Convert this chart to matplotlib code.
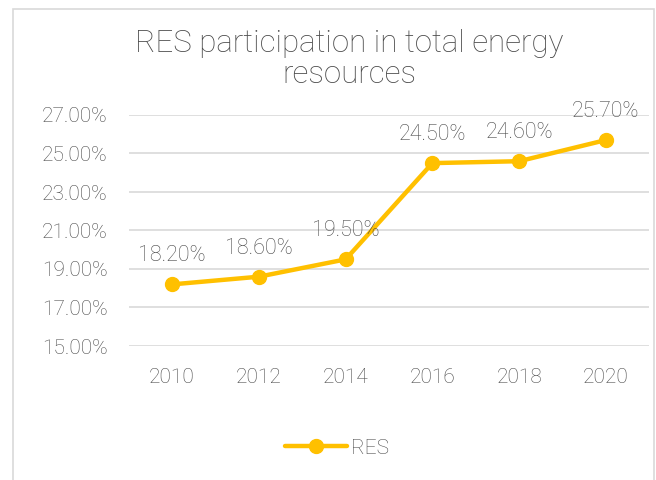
import matplotlib.pyplot as plt
from matplotlib.patches import Rectangle
from matplotlib.ticker import FuncFormatter

years = ["2010", "2012", "2014", "2016", "2018", "2020"]
res_share = [18.2, 18.6, 19.5, 24.5, 24.6, 25.7]
yticks = [15, 17, 19, 21, 23, 25, 27]

plt.rcParams['font.family'] = ['Roboto', 'DejaVu Sans']
plt.rcParams['font.weight'] = 'light'
txt_color = "#4a4a4a"
gold = "#FFC000"

fig = plt.figure(figsize=(6.56, 4.8), dpi=100)
W, H = 656, 480
# plot area in pixels: x 128.6..649.4, y 115 (27%) .. 346 (15%)
ax = fig.add_axes([128.6 / W, 1 - 346 / H, (649.4 - 128.6) / W, (346 - 115) / H])

# chart border
fig.patches.append(Rectangle((12.5 / W, -0.1), (653.5 - 12.5) / W, 1.1 - 8.5 / H,
                             transform=fig.transFigure, fill=False,
                             edgecolor="#D9D9D9", linewidth=1.2))

x = list(range(len(years)))
ax.plot(x, res_share, color=gold, linewidth=3.2, marker="o", markersize=10,
        label="RES", zorder=3, solid_capstyle="round")

for xi, v in zip(x, res_share):
    ax.annotate(f"{v:.2f}%", (xi, v), xytext=(0, 13), textcoords="offset points",
                ha="center", va="bottom", fontsize=15.5, color=txt_color,
                fontweight="light")

ax.set_xlim(-0.5, len(years) - 0.5)
ax.set_ylim(15, 27)
ax.set_yticks(yticks)
ax.yaxis.set_major_formatter(FuncFormatter(lambda v, p: f"{v:.2f}%"))
ax.set_xticks(x)
ax.set_xticklabels(years)
ax.grid(axis="y", color="#D9D9D9", linewidth=1.2)
ax.set_axisbelow(True)
for s in ax.spines.values():
    s.set_visible(False)
ax.tick_params(length=0, labelsize=15, colors=txt_color, pad=15)
ax.tick_params(axis="x", pad=16)

fig.text(349 / W, 1 - 59 / H, "RES participation in total energy\nresources",
         ha="center", va="center", fontsize=22.5, color=txt_color,
         fontweight="light", linespacing=1.1)

leg = fig.legend(loc="center", bbox_to_anchor=(337 / W, 1 - 448 / H), frameon=False,
                 fontsize=15, handlelength=3.0, handletextpad=0.2)
for t in leg.get_texts():
    t.set_color(txt_color)

fig.savefig("out.png", dpi=100)
